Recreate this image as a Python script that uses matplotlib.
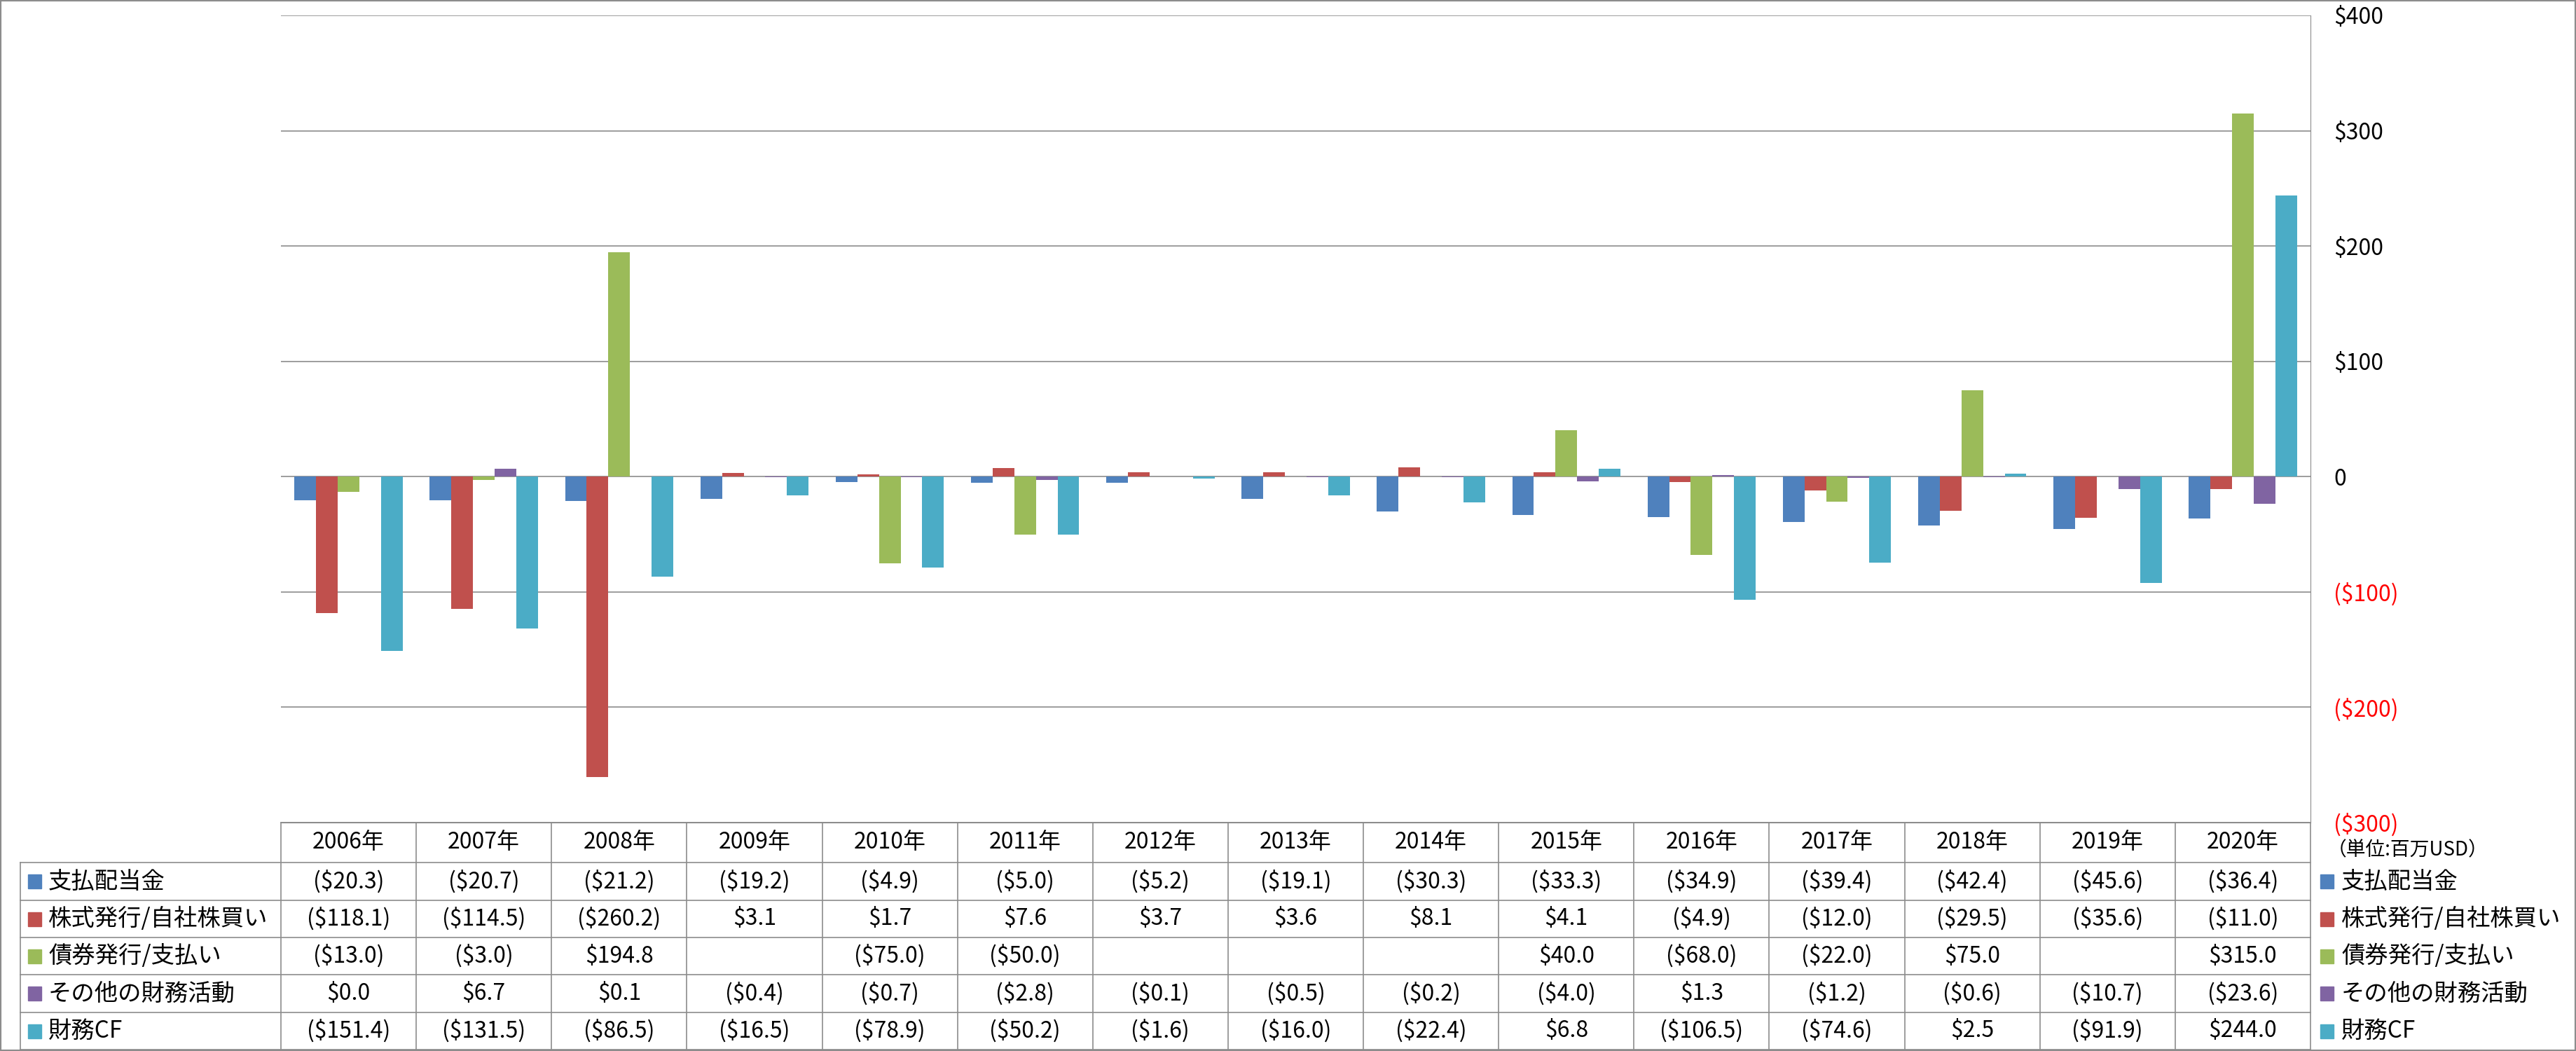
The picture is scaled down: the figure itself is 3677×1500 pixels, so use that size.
import matplotlib
matplotlib.use("Agg")
import matplotlib.pyplot as plt
from matplotlib.lines import Line2D
from matplotlib.patches import Rectangle
import numpy as np

plt.rcParams['font.family'] = ['Noto Sans CJK JP', 'DejaVu Sans']

# data (millions of USD)
years = ["2006年", "2007年", "2008年", "2009年", "2010年", "2011年", "2012年", "2013年",
         "2014年", "2015年", "2016年", "2017年", "2018年", "2019年", "2020年"]
series_names = ["支払配当金", "株式発行/自社株買い", "債券発行/支払い", "その他の財務活動", "財務CF"]
dividends = [-20.3, -20.7, -21.2, -19.2, -4.9, -5.0, -5.2, -19.1, -30.3, -33.3, -34.9, -39.4, -42.4, -45.6, -36.4]
stock = [-118.1, -114.5, -260.2, 3.1, 1.7, 7.6, 3.7, 3.6, 8.1, 4.1, -4.9, -12.0, -29.5, -35.6, -11.0]
bonds = [-13.0, -3.0, 194.8, None, -75.0, -50.0, None, None, None, 40.0, -68.0, -22.0, 75.0, None, 315.0]
other = [0.0, 6.7, 0.1, -0.4, -0.7, -2.8, -0.1, -0.5, -0.2, -4.0, 1.3, -1.2, -0.6, -10.7, -23.6]
fin_cf = [-151.4, -131.5, -86.5, -16.5, -78.9, -50.2, -1.6, -16.0, -22.4, 6.8, -106.5, -74.6, 2.5, -91.9, 244.0]
y_ticks = [-300, -200, -100, 0, 100, 200, 300, 400]

series = [dividends, stock, bonds, other, fin_cf]
colors = ["#4F81BD", "#C0504D", "#9BBB59", "#8064A2", "#4BACC6"]
grid_col = "#8c8c8c"

W, H = 3677, 1500
fig = plt.figure(figsize=(W / 100, H / 100), dpi=100)


# pixel (top-left origin) -> figure fraction
def fx(x):
    return x / W


def fy(y):
    return 1 - y / H


def money(v):
    if v is None:
        return ""
    if v < 0:
        return "(${:.1f})".format(-v)
    return "${:.1f}".format(v)


def tick_money(v):
    if v == 0:
        return "0"
    if v < 0:
        return "(${})".format(-v)
    return "${}".format(v)


def hline(x0, x1, y, **kw):
    fig.add_artist(Line2D([fx(x0), fx(x1)], [fy(y), fy(y)], transform=fig.transFigure,
                          color=kw.get("color", grid_col), lw=kw.get("lw", 1.2)))


def vline(x, y0, y1, **kw):
    fig.add_artist(Line2D([fx(x), fx(x)], [fy(y0), fy(y1)], transform=fig.transFigure,
                          color=kw.get("color", grid_col), lw=kw.get("lw", 1.2)))


# plot area
left, right, top, bottom = 401, 3298, 22, 1174
ax = fig.add_axes([fx(left), fy(bottom), fx(right - left), fy(top) - fy(bottom)])

n = len(years)
x = np.arange(n)
w = 0.16
for k, (vals, c) in enumerate(zip(series, colors)):
    v = np.array([np.nan if a is None else a for a in vals], dtype=float)
    ax.bar(x + (k - 2) * w, v, width=w, color=c, zorder=3)

ax.set_xlim(-0.5, n - 0.5)
ax.set_ylim(-300, 400)
ax.set_xticks([])
ax.yaxis.tick_right()
ax.set_yticks(y_ticks)
ax.set_yticklabels([tick_money(t) for t in y_ticks], fontsize=23)
for t, lab in zip(y_ticks, ax.get_yticklabels()):
    lab.set_color("red" if t < 0 else "black")
ax.tick_params(axis="y", length=0, pad=24)
ax.grid(axis="y", color=grid_col, lw=1.2, zorder=0)
for s in ["left", "top"]:
    ax.spines[s].set_visible(False)
ax.spines["right"].set_color(grid_col)
ax.spines["bottom"].set_color(grid_col)

# data table
col_w = (right - left) / n
label_left = 29
row_tops = [1174, 1231, 1285, 1338, 1391, 1445, 1498]
fs = 23

# header row
hline(left, right, row_tops[0])
for i in range(n + 1):
    vline(left + i * col_w, row_tops[0], row_tops[-1])
for i, yr in enumerate(years):
    fig.text(fx(left + (i + 0.5) * col_w), fy((row_tops[0] + row_tops[1]) / 2), yr,
             ha="center", va="center", fontsize=fs)

# data rows
for r in range(1, len(row_tops)):
    hline(label_left, right, row_tops[r])
vline(label_left, row_tops[1], row_tops[-1])
for r, (name, vals, c) in enumerate(zip(series_names, series, colors)):
    yc = (row_tops[r + 1] + row_tops[r + 2]) / 2
    fig.add_artist(Rectangle((fx(40), fy(yc + 10)), fx(19), fy(yc - 10) - fy(yc + 10),
                             transform=fig.transFigure, color=c))
    fig.text(fx(69), fy(yc), name, ha="left", va="center", fontsize=fs + 1)
    for i, v in enumerate(vals):
        fig.text(fx(left + (i + 0.5) * col_w), fy(yc), money(v),
                 ha="center", va="center", fontsize=fs)
    # legend on the right
    fig.add_artist(Rectangle((fx(3312), fy(yc + 10)), fx(19), fy(yc - 10) - fy(yc + 10),
                             transform=fig.transFigure, color=c))
    fig.text(fx(3342), fy(yc), name, ha="left", va="center", fontsize=fs + 1)

fig.text(fx(3322), fy(1213), "（単位:百万USD）", ha="left", va="center", fontsize=20)

# outer border
fig.add_artist(Rectangle((0, 0), 1, 1, transform=fig.transFigure, fill=False,
                         edgecolor=grid_col, lw=3))

fig.savefig("out.png", dpi=100)
